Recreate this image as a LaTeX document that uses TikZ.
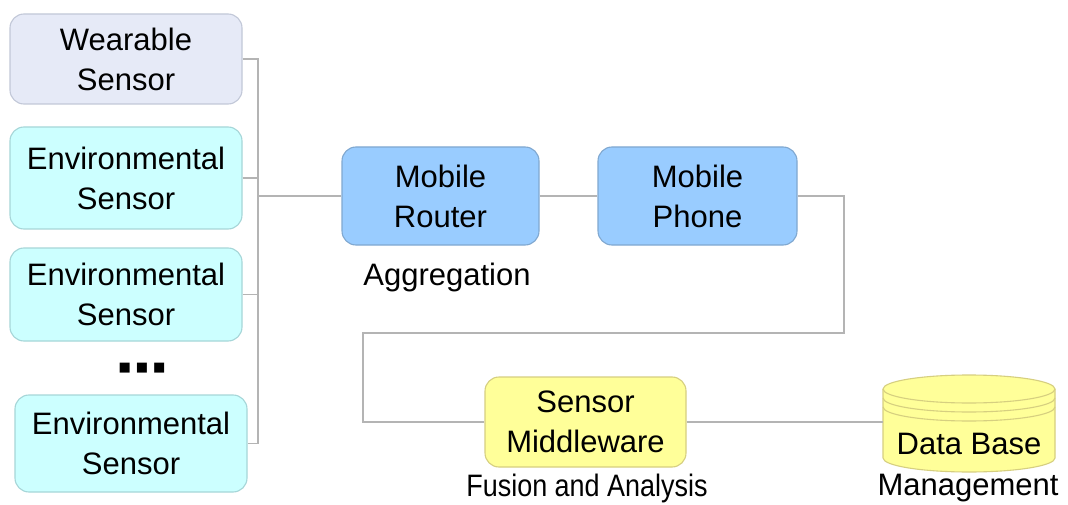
\documentclass[tikz,border=0pt]{standalone}
\usepackage{fontspec}
\setmainfont{Liberation Sans}
\newfontfamily\condfont[FakeStretch=0.87]{Liberation Sans}
\newfontfamily\symfont{DejaVu Sans}
\definecolor{wearfill}{HTML}{E6EAF7}
\definecolor{wearline}{HTML}{C2C8D8}
\definecolor{envfill}{HTML}{CCFFFF}
\definecolor{envline}{HTML}{A6D6D8}
\definecolor{mobfill}{HTML}{99CCFF}
\definecolor{mobline}{HTML}{80A8D0}
\definecolor{midfill}{HTML}{FFFF99}
\definecolor{midline}{HTML}{D6CF80}
\definecolor{conn}{HTML}{B4B4B4}
\begin{document}
\begin{tikzpicture}[x=1pt,y=-1pt,
  box/.style={rounded corners=14pt,line width=1.1pt,align=center,inner sep=0pt,
    font=\fontsize{31}{40}\selectfont},
  wear/.style={box,draw=wearline,fill=wearfill},
  env/.style={box,draw=envline,fill=envfill},
  mob/.style={box,draw=mobline,fill=mobfill},
  mid/.style={box,draw=midline,fill=midfill},
  lbl/.style={inner sep=0pt,font=\fontsize{31}{40}\selectfont},
  wire/.style={draw=conn,line width=1.2pt}]
\useasboundingbox (0,0) rectangle (1068,505);
\fill[white] (0,0) rectangle (1068,505);

% sensors
\node[wear,minimum width=232pt,minimum height=90pt] (ws) at (126,59) {Wearable\\Sensor};
\node[env,minimum width=232pt,minimum height=102pt] (e1) at (126,178) {Environmental\\Sensor};
\node[env,minimum width=232pt,minimum height=93pt] (e2) at (126,294.5) {Environmental\\Sensor};
\node[inner sep=0pt,font=\symfont\fontsize{13}{13}\selectfont] (dots) at (142,368) {■\hspace{5pt}■\hspace{5pt}■};
\node[env,minimum width=232pt,minimum height=97pt] (e3) at (131,443.5) {Environmental\\Sensor};

% mobile
\node[mob,minimum width=197pt,minimum height=98pt] (mr) at (440.5,196) {Mobile\\Router};
\node[mob,minimum width=199pt,minimum height=98pt] (mp) at (697.5,196) {Mobile\\Phone};
\node[lbl] (agg) at (447,277) {Aggregation};

% middleware
\node[mid,minimum width=201pt,minimum height=90pt] (sm) at (585.5,422) {Sensor\\Middleware};
\node[lbl] (fa) at (587,488) {\condfont Fusion and Analysis};

% database
\fill[midfill] (883,389) -- (883,458) arc[start angle=180,end angle=360,x radius=86,y radius=-14] -- (1055,389) arc[start angle=0,end angle=180,x radius=86,y radius=-14] -- cycle;
\draw[midline,line width=1.1pt] (883,389) -- (883,458) arc[start angle=180,end angle=360,x radius=86,y radius=-14] -- (1055,389);
\draw[midline,line width=1.1pt] (969,389) ellipse[x radius=86,y radius=14];
\draw[midline,line width=1.1pt] (883,398) arc[start angle=180,end angle=360,x radius=86,y radius=-14];
\draw[midline,line width=1.1pt] (883,407) arc[start angle=180,end angle=360,x radius=86,y radius=-14];
\node[minimum width=172pt,minimum height=97pt,inner sep=0pt] (db) at (969,422) {};
\node[lbl] (dbt) at (969,444) {Data Base};
\node[lbl] (mgmt) at (968,488) {Management};

% connectors
\coordinate (bt) at (258,59);
\coordinate (bb) at (258,443.5);
\coordinate (bm) at (258,196);
\draw[wire] (ws.east) -- (bt) -- (bb) -- (e3.east);
\draw[wire] (e1.east) -- (e1.east -| bt);
\draw[wire] (e2.east) -- (e2.east -| bt);
\draw[wire] (bm) -- (mr.west);
\draw[wire] (mr.east) -- (mp.west);
\coordinate (c1) at (844,196);
\coordinate (c2) at (844,333);
\coordinate (c3) at (363,333);
\coordinate (c4) at (363,422);
\draw[wire] (mp.east) -- (c1) -- (c2) -- (c3) -- (c4) -- (sm.west);
\draw[wire] (sm.east) -- (db.west);
\end{tikzpicture}
\end{document}
